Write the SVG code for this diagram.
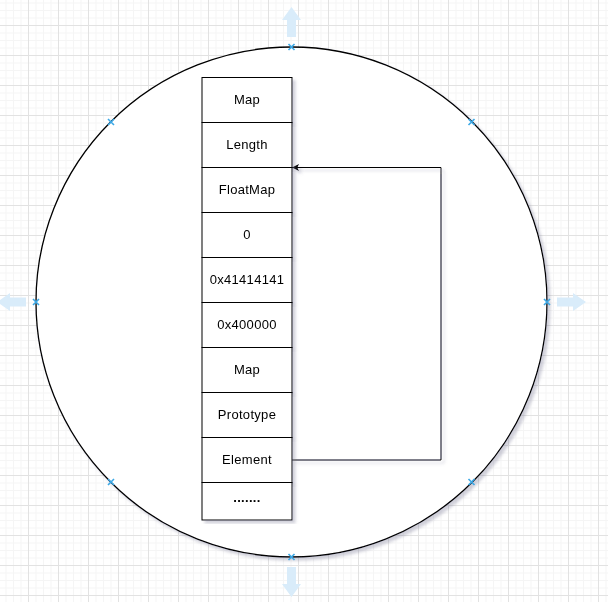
<svg xmlns="http://www.w3.org/2000/svg" width="608" height="602" viewBox="0 0 608 602">
<style>
.box{fill:#fff;stroke:#000;stroke-width:1}
.lbl{font-family:"Liberation Sans",Arial,sans-serif;font-size:13px;fill:#000;text-anchor:middle;letter-spacing:0.3px}
.edge{fill:none;stroke:#000;stroke-width:1}
.hnd{fill:#d9ecfa;stroke:none}
.xm{stroke:#3ba8e6;stroke-width:1.6;fill:none}
</style>
<defs>
<pattern id="grid" patternUnits="userSpaceOnUse" x="28" y="25" width="30" height="30">
<path d="M8 0V30M15.5 0V30M23 0V30M0 8H30M0 15.5H30M0 23H30" stroke="#f5f5f5" stroke-width="1" fill="none"/>
<path d="M0.5 0V30M0 0.5H30" stroke="#e2e2e2" stroke-width="1" fill="none"/>
</pattern>
<filter id="sh" x="-10%" y="-10%" width="120%" height="120%">
<feGaussianBlur in="SourceAlpha" stdDeviation="1.5"/>
<feOffset dx="2.5" dy="2.5" result="o"/>
<feFlood flood-color="#7a7a96" flood-opacity="0.35"/>
<feComposite in2="o" operator="in"/>
<feMerge><feMergeNode/><feMergeNode in="SourceGraphic"/></feMerge>
</filter>
<marker id="arr" viewBox="0 0 10 10" refX="10" refY="5" markerWidth="7.5" markerHeight="7" markerUnits="userSpaceOnUse" orient="auto">
<path d="M0 0L10 5L0 10L2.5 5Z" fill="#000"/>
</marker>
</defs>
<rect width="608" height="602" fill="#fff"/>
<rect width="608" height="602" fill="url(#grid)"/>
<g id="circle" filter="url(#sh)">
<ellipse cx="291.5" cy="302" rx="255.5" ry="255" fill="#fff" stroke="#000" stroke-width="1.3"/>
</g>
<g id="handles">
<path class="hnd" d="M287 37V20H282L291.5 7L301 20H296V37Z"/>
<path class="hnd" d="M287 567V584H282L291.5 597L301 584H296V567Z"/>
<path class="hnd" d="M557 297.5H573V293L586 302L573 311V306.5H557Z"/>
<path class="hnd" d="M26 297.5H10V293L-3 302L10 311V306.5H26Z"/>
<g class="xm">
<path d="M288.5 44L294.5 50M294.5 44L288.5 50"/>
<path d="M288.5 554L294.5 560M294.5 554L288.5 560"/>
<path d="M33 299L39 305M39 299L33 305"/>
<path d="M544 299L550 305M550 299L544 305"/>
<path d="M108 119L114 125M114 119L108 125"/>
<path d="M468.5 119L474.5 125M474.5 119L468.5 125"/>
<path d="M108 479L114 485M114 479L108 485"/>
<path d="M468.5 479L474.5 485M474.5 479L468.5 485"/>
</g>
</g>
<g id="connectors" filter="url(#sh)">
<path class="edge" d="M292 460H441V167.5H292" marker-end="url(#arr)"/>
</g>
<g id="n-map1" filter="url(#sh)"><rect class="box" x="202" y="77.5" width="90" height="45"/><text class="lbl" x="247" y="104.3">Map</text></g>
<g id="n-length" filter="url(#sh)"><rect class="box" x="202" y="122.5" width="90" height="45"/><text class="lbl" x="247" y="149.3">Length</text></g>
<g id="n-floatmap" filter="url(#sh)"><rect class="box" x="202" y="167.5" width="90" height="45"/><text class="lbl" x="247" y="194.3">FloatMap</text></g>
<g id="n-zero" filter="url(#sh)"><rect class="box" x="202" y="212.5" width="90" height="45"/><text class="lbl" x="247" y="239.3">0</text></g>
<g id="n-41414141" filter="url(#sh)"><rect class="box" x="202" y="257.5" width="90" height="45"/><text class="lbl" x="247" y="283.5">0x41414141</text></g>
<g id="n-400000" filter="url(#sh)"><rect class="box" x="202" y="302.5" width="90" height="45"/><text class="lbl" x="247" y="329.3">0x400000</text></g>
<g id="n-map2" filter="url(#sh)"><rect class="box" x="202" y="347.5" width="90" height="45"/><text class="lbl" x="247" y="374.3">Map</text></g>
<g id="n-prototype" filter="url(#sh)"><rect class="box" x="202" y="392.5" width="90" height="45"/><text class="lbl" x="247" y="419.3">Prototype</text></g>
<g id="n-element" filter="url(#sh)"><rect class="box" x="202" y="437.5" width="90" height="45"/><text class="lbl" x="247" y="464.3">Element</text></g>
<g id="n-dots" filter="url(#sh)"><rect class="box" x="202" y="482.5" width="90" height="37.5"/><text class="lbl" x="247" y="502" style="font-weight:bold">.......</text></g>
</svg>
